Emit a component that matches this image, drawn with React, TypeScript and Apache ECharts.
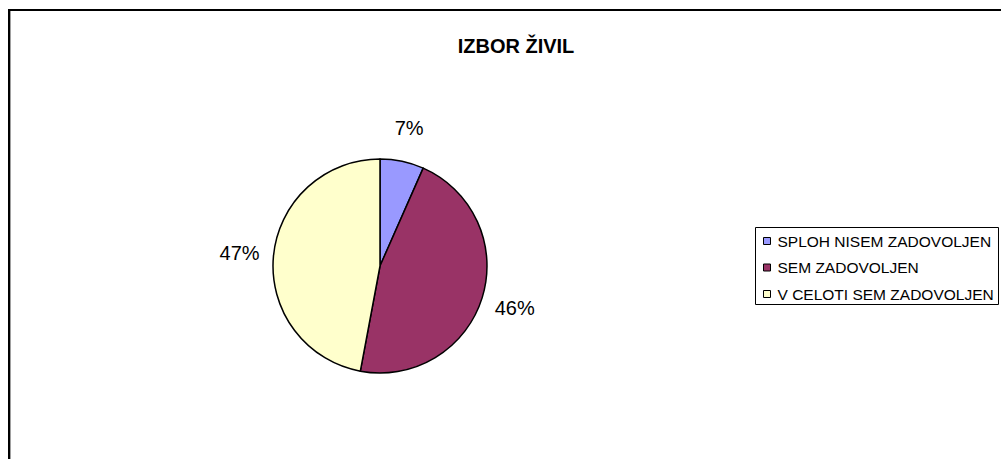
import React, { useEffect, useRef } from "react";
import * as echarts from "echarts";

const titleText = "IZBOR ŽIVIL";
const categories = ["SPLOH NISEM ZADOVOLJEN", "SEM ZADOVOLJEN", "V CELOTI SEM ZADOVOLJEN"];
const counts = [9, 63, 64];
const colors = ["#9999FF", "#993366", "#FFFFCC"];

const FONT = "'Liberation Sans', Arial, Helvetica, sans-serif";

export default function App() {
  const ref = useRef<HTMLDivElement>(null);
  useEffect(() => {
    if (!ref.current) return;
    const chart = echarts.init(ref.current, null, { renderer: "svg" });
    const data = categories.map((name, i) => ({
      name,
      value: counts[i],
      itemStyle: { color: colors[i] },
    }));
    const center = [380, 266];
    chart.setOption({
      animation: false,
      backgroundColor: "#ffffff",
      title: {
        text: titleText,
        left: 511,
        top: 31,
        textAlign: "center",
        textStyle: { fontFamily: FONT, fontSize: 20, fontWeight: "bold", color: "#000" },
      },
      legend: {
        orient: "vertical",
        left: 763,
        top: 233,
        padding: 0,
        itemWidth: 7,
        itemHeight: 7,
        itemGap: 10.5,
        icon: "rect",
        selectedMode: false,
        itemStyle: { borderColor: "#000", borderWidth: 1 },
        textStyle: { fontFamily: FONT, fontSize: 15.5, lineHeight: 16, color: "#000", padding: [0, 0, 0, 2] },
        data: categories.map((name, i) => ({ name, itemStyle: { color: colors[i], borderColor: "#000", borderWidth: 1 } })),
      },
      graphic: [
        {
          type: "rect",
          silent: true,
          shape: { x: 9, y: 10, width: 2000, height: 2000 },
          style: { fill: "none", stroke: "#000", lineWidth: 2 },
        },
        {
          type: "line",
          silent: true,
          shape: { x1: 10.5, y1: 11, x2: 10.5, y2: 470 },
          style: { stroke: "#a0a0a0", lineWidth: 1 },
        },
        {
          type: "rect",
          silent: true,
          shape: { x: 755.5, y: 227.5, width: 243, height: 77 },
          style: { fill: "none", stroke: "#000", lineWidth: 1 },
        },
      ],
      series: [
        {
          type: "pie",
          center,
          radius: [0, 107],
          startAngle: 90,
          clockwise: true,
          silent: true,
          data,
          label: { show: false },
          labelLine: { show: false },
          itemStyle: { borderColor: "#000", borderWidth: 1.5 },
          emphasis: { disabled: true },
        },
        {
          type: "pie",
          center,
          radius: [107, 169],
          startAngle: 90,
          clockwise: true,
          silent: true,
          z: 3,
          data: categories.map((name, i) => ({
            name,
            value: counts[i],
            itemStyle: { color: "rgba(0,0,0,0)", borderWidth: 0 },
          })),
          label: {
            show: true,
            position: "inside",
            fontFamily: FONT,
            fontSize: 20,
            color: "#000",
            formatter: (p: any) => Math.round(p.percent) + "%",
          },
          labelLine: { show: false },
          emphasis: { disabled: true },
        },
      ],
    });
    return () => chart.dispose();
  }, []);
  return (
    <div
      ref={ref}
      style={{ position: "fixed", left: 0, top: 0, width: 1001, height: 459 }}
    />
  );
}
